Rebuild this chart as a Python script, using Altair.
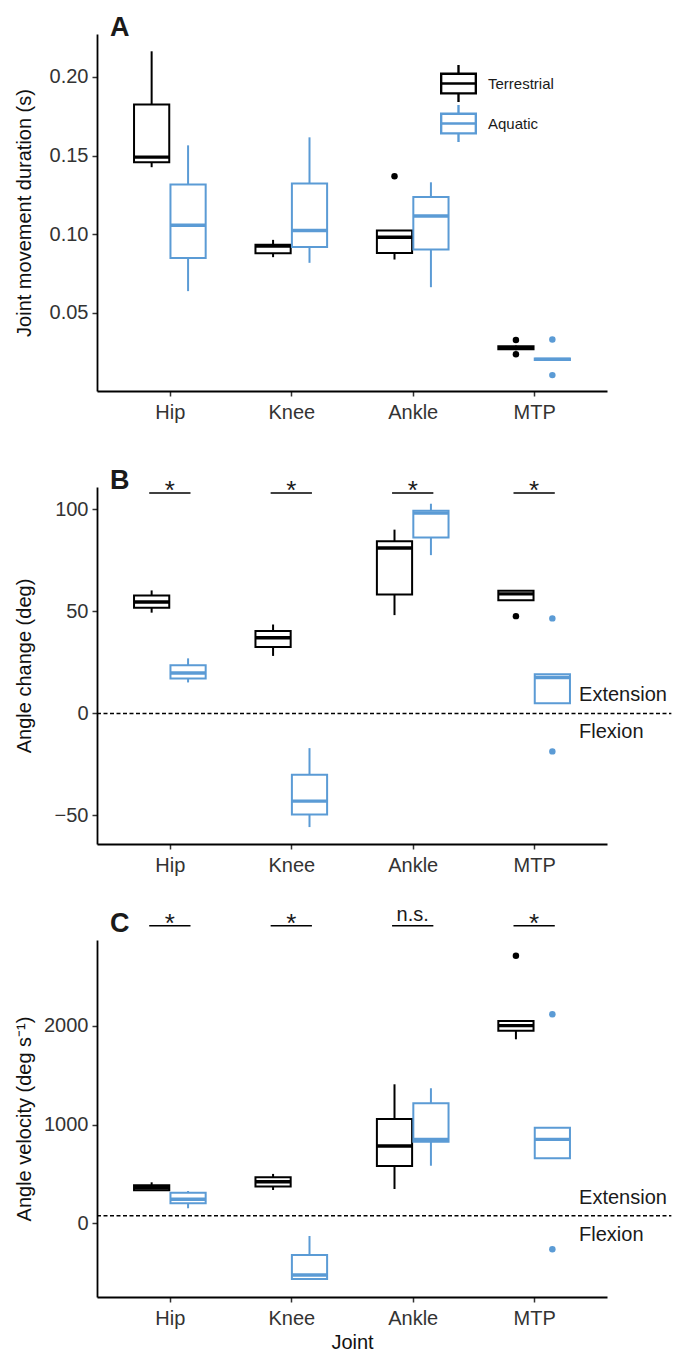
import altair as alt
import pandas as pd

FONT = "Liberation Sans"
joints = ["Hip", "Knee", "Ankle", "MTP"]
groups = ["Terrestrial", "Aquatic"]
group_colors = ["#000000", "#5B9BD5"]

# Box statistics, order: Hip-T, Hip-A, Knee-T, Knee-A, Ankle-T, Ankle-A, MTP-T, MTP-A
# Panel A: joint movement duration (s)
a_lo  = [0.1426, 0.0638, 0.0854, 0.0818, 0.0839, 0.0663, 0.0262, 0.0198]
a_q1  = [0.1458, 0.0849, 0.0879, 0.0919, 0.0881, 0.0903, 0.0268, 0.0200]
a_med = [0.1490, 0.1057, 0.0924, 0.1024, 0.0981, 0.1116, 0.0279, 0.0204]
a_q3  = [0.1824, 0.1316, 0.0933, 0.1322, 0.1024, 0.1237, 0.0288, 0.0210]
a_hi  = [0.2163, 0.1565, 0.0964, 0.1616, 0.1024, 0.1330, 0.0292, 0.0212]
a_out_joint = ["Ankle", "MTP", "MTP", "MTP", "MTP"]
a_out_group = ["Terrestrial", "Terrestrial", "Terrestrial", "Aquatic", "Aquatic"]
a_out_val = [0.1368, 0.0327, 0.0236, 0.0331, 0.0104]

# Panel B: angle change (deg)
b_lo  = [49.4, 15.2, 28.2, -55.7, 48.2, 77.6, 55.5, 5.0]
b_q1  = [51.8, 17.1, 32.6, -49.5, 58.3, 86.2, 55.5, 5.0]
b_med = [54.6, 19.8, 37.1, -43.0, 81.1, 98.2, 58.6, 17.6]
b_q3  = [57.8, 23.6, 40.4, -30.0, 84.4, 99.3, 60.2, 19.2]
b_hi  = [60.3, 27.0, 43.6, -17.0, 90.1, 102.8, 60.2, 19.2]
b_out_joint = ["MTP", "MTP", "MTP"]
b_out_group = ["Terrestrial", "Aquatic", "Aquatic"]
b_out_val = [47.7, 46.6, -18.6]
b_sig = ["*", "*", "*", "*"]
b_sig_y = 108
b_ref = 0

# Panel C: angle velocity (deg s-1)
c_lo  = [330, 152, 337, -574, 347, 583, 1864, 658]
c_q1  = [335, 203, 372, -564, 580, 827, 1951, 658]
c_med = [360, 243, 421, -524, 783, 850, 2002, 850]
c_q3  = [385, 310, 465, -321, 1057, 1216, 2049, 968]
c_hi  = [415, 327, 500, -129, 1408, 1368, 2049, 968]
c_out_joint = ["MTP", "MTP", "MTP"]
c_out_group = ["Terrestrial", "Aquatic", "Aquatic"]
c_out_val = [2711, 2117, -263]
c_sig = ["*", "*", "n.s.", "*"]
c_sig_y = 3015
c_ref = 77

DODGE = 0.15
HALF = 0.145
SIGHALF = 0.17


def center(joint, group):
    return joints.index(joint) + 1 + (-DODGE if group == groups[0] else DODGE)


def box_frame(lo, q1, med, q3, hi):
    rows = []
    for i, j in enumerate(joints):
        for k, g in enumerate(groups):
            n = 2 * i + k
            c = center(j, g)
            rows.append(dict(joint=j, group=g, pos=c, left=c - HALF, right=c + HALF,
                             lo=lo[n], q1=q1[n], med=med[n], q3=q3[n], hi=hi[n]))
    return pd.DataFrame(rows)


def out_frame(js, gs, vs):
    return pd.DataFrame(dict(kind=gs, pos=[center(j, g) for j, g in zip(js, gs)], val=vs))


def sig_frame(labels, yv):
    return pd.DataFrame(dict(
        label=labels,
        pos=[i + 1 for i in range(len(joints))],
        left=[i + 1 - SIGHALF for i in range(len(joints))],
        right=[i + 1 + SIGHALF for i in range(len(joints))],
        y=[yv] * len(joints)))


label_expr = "[" + ",".join("'%s'" % j for j in joints) + "][datum.value - 1]"

# box-plot key drawn as thin outlines (ring with a hole, median bar, whiskers)
LEGEND_PATH = ("M-1,-0.57H1V0.57H-1Z "
               "M-0.98,-0.55V0.55H0.98V-0.55Z "
               "M-0.98,-0.01H0.98V0.01H-0.98Z "
               "M-0.01,-1H0.01V-0.57H-0.01Z "
               "M-0.01,0.57H0.01V1H-0.01Z")


def panel(letter, title_offset, box_df, out_df, ydomain, yvalues, yfmt, ytitle,
          xtitle=None, legend=None, ref=None, sig=None):
    xs = alt.Scale(domain=[0.4, 4.6], nice=False, zero=False)
    ys = alt.Scale(domain=ydomain, nice=False, zero=False)
    xaxis = alt.Axis(values=[1, 2, 3, 4], labelExpr=label_expr, title=xtitle)
    yaxis = alt.Axis(values=yvalues, format=yfmt, title=ytitle, titleX=-63)
    sscale = alt.Scale(domain=groups, range=group_colors)
    stroke_off = alt.Stroke("group:N", scale=sscale, legend=None)
    stroke_leg = stroke_off if legend is None else alt.Stroke("group:N", scale=sscale, legend=legend)

    layers = []
    if ref is not None:
        ref_df = pd.DataFrame(dict(x=[0.4], x2=[5.13], y=[ref]))
        layers.append(alt.Chart(ref_df).mark_rule(color="black", strokeWidth=1.5,
                                                  strokeDash=[4, 2.5]).encode(
            x=alt.X("x:Q", scale=xs, axis=xaxis), x2="x2:Q",
            y=alt.Y("y:Q", scale=ys, axis=yaxis)))
        lab_df = pd.DataFrame(dict(x=[4.37], y=[ref]))
        layers.append(alt.Chart(lab_df).mark_text(text="Extension", align="left", baseline="middle",
                                                  dy=-18, fontSize=20, font=FONT, color="#1a1a1a").encode(
            x=alt.X("x:Q", scale=xs, axis=xaxis), y=alt.Y("y:Q", scale=ys, axis=yaxis)))
        layers.append(alt.Chart(lab_df).mark_text(text="Flexion", align="left", baseline="middle",
                                                  dy=19, fontSize=20, font=FONT, color="#1a1a1a").encode(
            x=alt.X("x:Q", scale=xs, axis=xaxis), y=alt.Y("y:Q", scale=ys, axis=yaxis)))

    base = alt.Chart(box_df)
    layers.append(base.mark_rule(strokeWidth=2).encode(
        x=alt.X("pos:Q", scale=xs, axis=xaxis),
        y=alt.Y("lo:Q", scale=ys, axis=yaxis), y2="hi:Q", stroke=stroke_leg))
    layers.append(base.mark_rect(fill="white", strokeWidth=2).encode(
        x=alt.X("left:Q", scale=xs, axis=xaxis), x2="right:Q",
        y=alt.Y("q1:Q", scale=ys, axis=yaxis), y2="q3:Q", stroke=stroke_off))
    layers.append(base.mark_rule(strokeWidth=3.4).encode(
        x=alt.X("left:Q", scale=xs, axis=xaxis), x2="right:Q",
        y=alt.Y("med:Q", scale=ys, axis=yaxis), stroke=stroke_off))
    layers.append(alt.Chart(out_df).mark_circle(size=42, opacity=1).encode(
        x=alt.X("pos:Q", scale=xs, axis=xaxis),
        y=alt.Y("val:Q", scale=ys, axis=yaxis),
        fill=alt.Fill("kind:N", scale=sscale, legend=None)))

    if sig is not None:
        layers.append(alt.Chart(sig).mark_rule(color="black", strokeWidth=1.5).encode(
            x=alt.X("left:Q", scale=xs, axis=xaxis), x2="right:Q",
            y=alt.Y("y:Q", scale=ys, axis=yaxis)))
        layers.append(alt.Chart(sig).transform_filter("datum.label == '*'").mark_text(
            baseline="alphabetic", dy=6, fontSize=26, font=FONT, color="#1a1a1a").encode(
            x=alt.X("pos:Q", scale=xs, axis=xaxis),
            y=alt.Y("y:Q", scale=ys, axis=yaxis), text="label:N"))
        layers.append(alt.Chart(sig).transform_filter("datum.label != '*'").mark_text(
            baseline="alphabetic", dy=-5, fontSize=20, font=FONT, color="#1a1a1a").encode(
            x=alt.X("pos:Q", scale=xs, axis=xaxis),
            y=alt.Y("y:Q", scale=ys, axis=yaxis), text="label:N"))

    return alt.layer(*layers).properties(
        width=510, height=357,
        title=alt.TitleParams(letter, anchor="start", frame="group", fontSize=27,
                              fontWeight="bold", dx=13, offset=title_offset,
                              baseline="alphabetic", color="#1a1a1a", font=FONT))


legend_a = alt.Legend(title=None, orient="none", legendX=343, legendY=31,
                      symbolType=LEGEND_PATH, symbolSize=1225, symbolStrokeWidth=2,
                      symbolFillColor="transparent", labelFontSize=15, labelOffset=11,
                      rowPadding=-4, labelColor="#1a1a1a", labelFont=FONT)

chart_a = panel("A", -29, box_frame(a_lo, a_q1, a_med, a_q3, a_hi),
                out_frame(a_out_joint, a_out_group, a_out_val),
                [0.0003, 0.2273], [0.05, 0.10, 0.15, 0.20], ".2f",
                "Joint movement duration (s)", legend=legend_a)
chart_b = panel("B", -38, box_frame(b_lo, b_q1, b_med, b_q3, b_hi),
                out_frame(b_out_joint, b_out_group, b_out_val),
                [-64, 111], [-50, 0, 50, 100], "d",
                "Angle change (deg)", ref=b_ref, sig=sig_frame(b_sig, b_sig_y))
chart_c = panel("C", -54, box_frame(c_lo, c_q1, c_med, c_q3, c_hi),
                out_frame(c_out_joint, c_out_group, c_out_val),
                [-747, 2870], [0, 1000, 2000], "d",
                "Angle velocity (deg s\u207b\u00b9)", xtitle="Joint",
                ref=c_ref, sig=sig_frame(c_sig, c_sig_y))

chart = alt.vconcat(chart_a, chart_b, chart_c, spacing=96, bounds="flush").resolve_scale(
    stroke="independent", fill="independent", x="independent", y="independent"
).resolve_legend(stroke="independent", fill="independent").properties(
    padding={"left": 14, "top": 14, "right": 0, "bottom": 0}
).configure_view(stroke=None).configure_axis(
    grid=False, domainColor="black", domainWidth=1.8, tickColor="#333333", tickWidth=1.5,
    tickSize=5, labelFontSize=20, labelFont=FONT, labelColor="#333333", labelPadding=4,
    titleFontSize=20, titleFont=FONT, titleColor="#111111", titleFontWeight="normal"
).configure_axisX(labelPadding=6, titlePadding=4)

chart.save("out.html", embed_options={"renderer": "svg", "actions": False})
